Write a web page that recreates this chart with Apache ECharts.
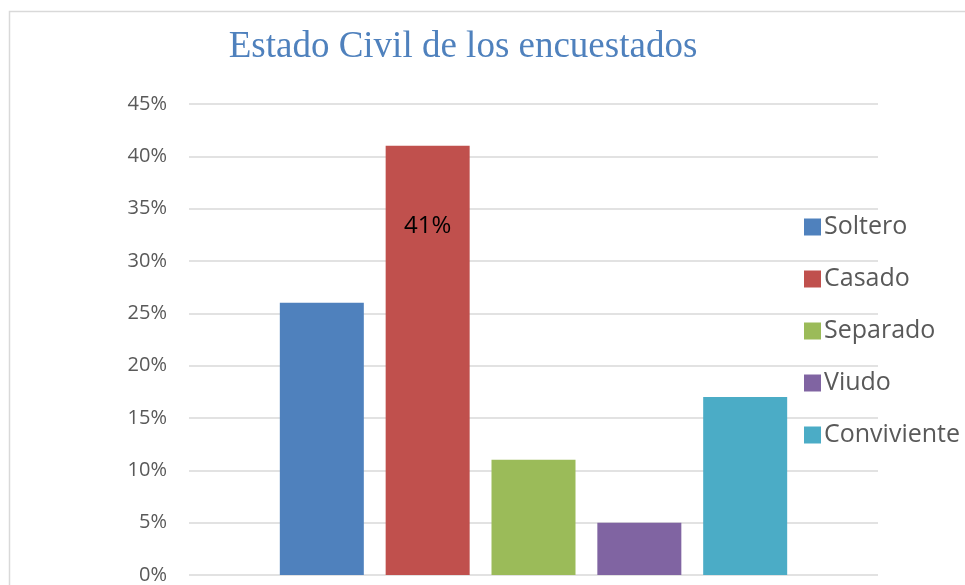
<!DOCTYPE html>
<html><head><meta charset="utf-8">
<script src="https://cdn.jsdelivr.net/npm/echarts@6/dist/echarts.min.js"></script>
<style>html,body{margin:0;padding:0;background:#fff}#c{width:965px;height:585px}</style>
</head><body><div id="c"></div>
<script>
const seriesNames = ['Soltero','Casado','Separado','Viudo','Conviviente'];
const seriesValues = [26, 41, 11, 5, 17];
const seriesColors = ['#4f81bd','#c0504d','#9bbb59','#8064a2','#4bacc6'];
const yTicks = [0,5,10,15,20,25,30,35,40,45];
const labeled = [false, true, false, false, false];

const chart = echarts.init(document.getElementById('c'));
chart.setOption({
  animation: false,
  title: {
    text: 'Estado Civil de los encuestados',
    left: 458, top: 24, textAlign: 'center',
    textStyle: {fontFamily: '"Liberation Serif","DejaVu Serif",serif', fontWeight: 'normal', fontSize: 37, color: '#4f81bd'}
  },
  graphic: [{type: 'rect', silent: true, shape: {x: 9.5, y: 11.5, width: 1200, height: 1200},
    style: {fill: 'none', stroke: '#d9d9d9', lineWidth: 1.5}}],
  legend: {
    orient: 'vertical', left: 799, top: 209, itemWidth: 17, itemHeight: 17, itemGap: 26,
    icon: 'rect',
    textStyle: {fontFamily: '"Open Sans","Noto Sans",sans-serif', fontSize: 25, lineHeight: 26, color: '#595959', padding: [0,0,0,-2]},
    data: seriesNames
  },
  grid: {left: 189, right: 87, top: 104, bottom: 8, containLabel: false},
  xAxis: {type: 'category', data: [''], axisLine: {show: false}, axisTick: {show: false}, axisLabel: {show: false}},
  yAxis: {
    type: 'value', min: yTicks[0], max: yTicks[yTicks.length-1], interval: 5,
    axisLabel: {formatter: '{value}%', fontFamily: '"Open Sans","Noto Sans",sans-serif', fontSize: 20, color: '#595959', margin: 22},
    splitLine: {lineStyle: {color: '#d9d9d9', width: 1.5}},
    axisLine: {show: false}, axisTick: {show: false}
  },
  series: seriesNames.map((n, i) => ({
    name: n, type: 'bar', barWidth: 84, barGap: '26%',
    itemStyle: {color: seriesColors[i]},
    data: [seriesValues[i]],
    label: {show: labeled[i], position: 'insideTop', distance: 68, formatter: '{c}%',
      fontFamily: '"Open Sans","Noto Sans",sans-serif', fontSize: 24, color: '#000'}
  }))
});
</script></body></html>
